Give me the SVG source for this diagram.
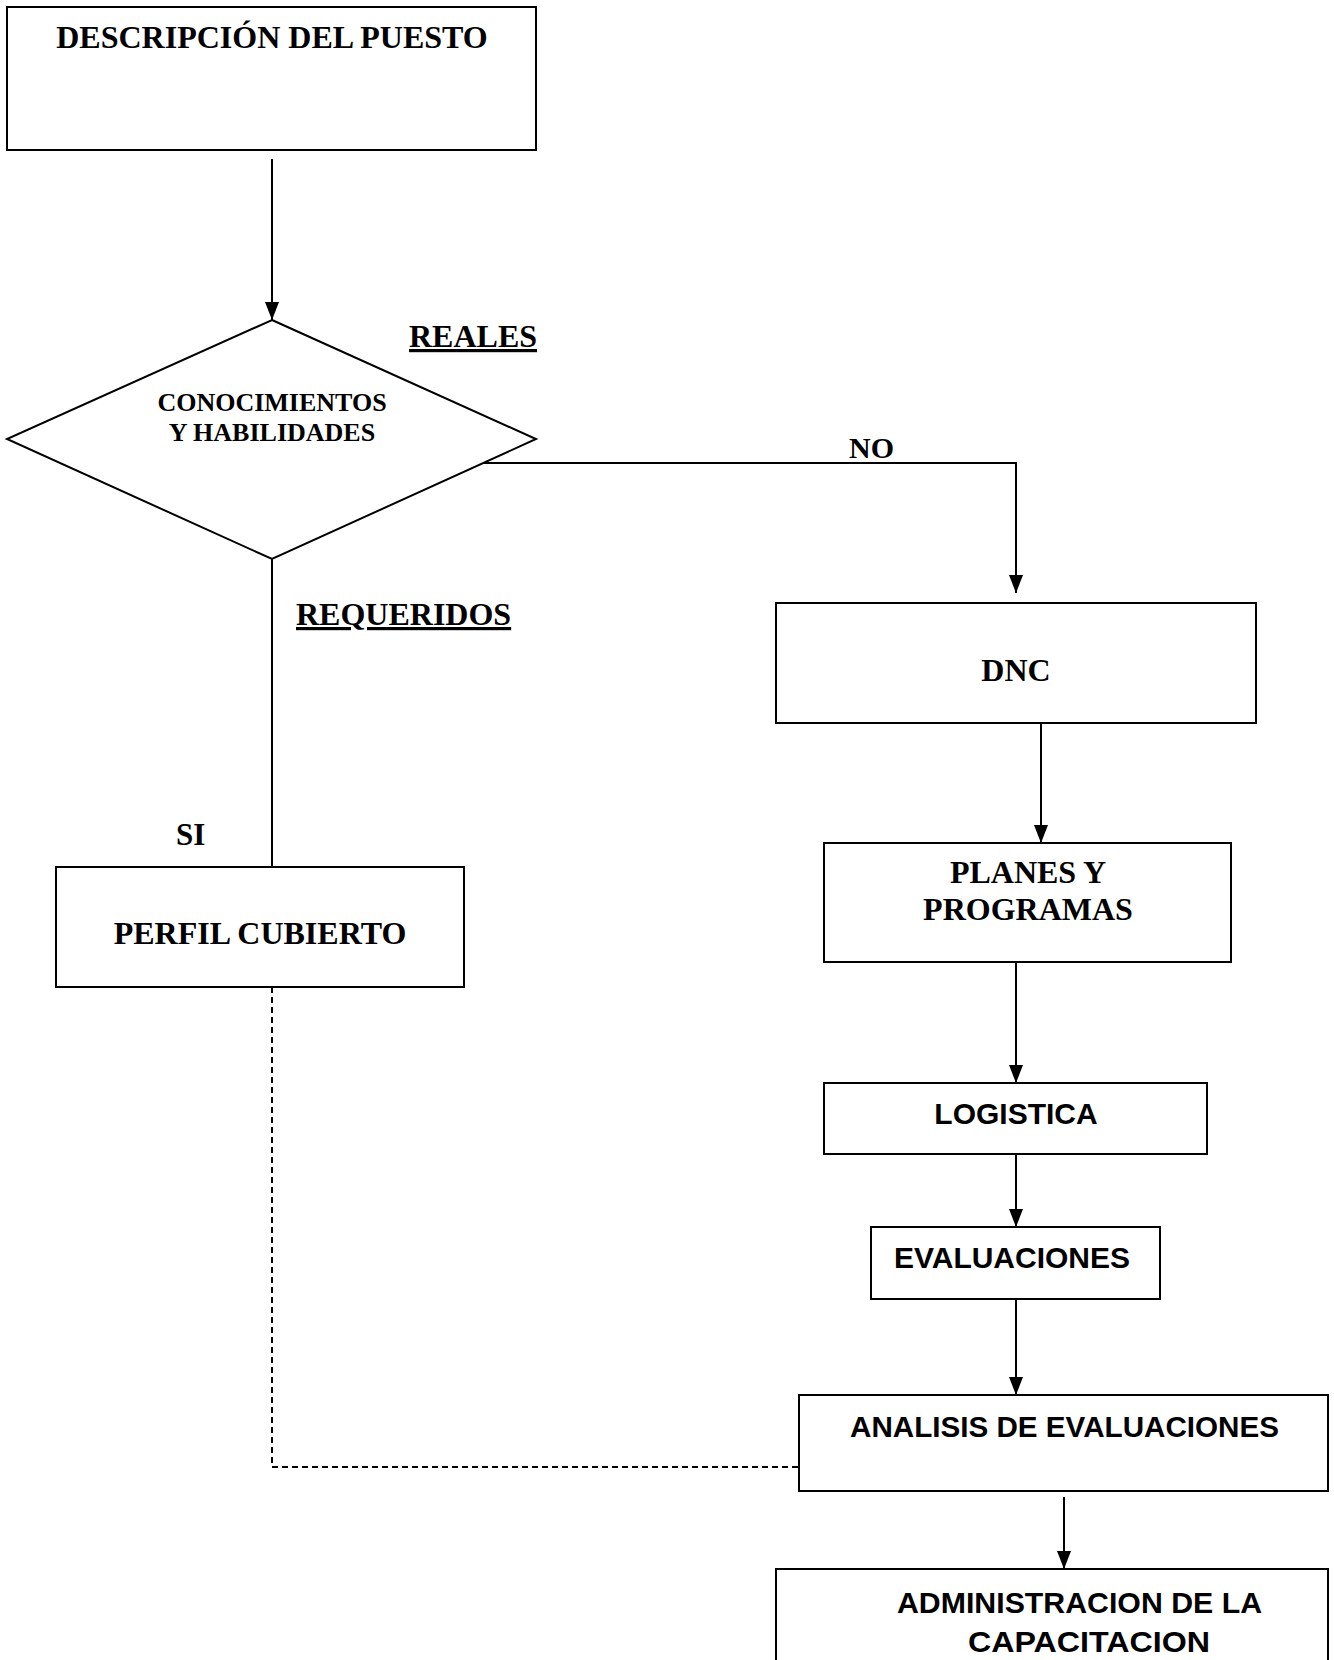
<svg xmlns="http://www.w3.org/2000/svg" width="1334" height="1660" viewBox="0 0 1334 1660">
<style>
.box{fill:#fff;stroke:#000;stroke-width:2}
.ser{font-family:"Liberation Serif","Times New Roman",serif;font-weight:bold;fill:#000}
.san{font-family:"Liberation Sans",Arial,sans-serif;font-weight:bold;fill:#000}
.ln{fill:none;stroke:#000;stroke-width:2}
.dash{fill:none;stroke:#000;stroke-width:2;stroke-dasharray:6 4}
</style>
<defs>
<marker id="arr" markerUnits="userSpaceOnUse" markerWidth="16" markerHeight="20" refX="8" refY="18" orient="auto-start-reverse" viewBox="0 0 16 20">
<path d="M1,0 L15,0 L8,18 Z" fill="#000" transform="rotate(0)"/>
</marker>
<marker id="arrv" markerUnits="userSpaceOnUse" markerWidth="20" markerHeight="16" refX="18" refY="8" orient="auto" viewBox="0 0 20 16">
<path d="M0,1 L18,8 L0,15 Z" fill="#000"/>
</marker>
</defs>
<rect width="1334" height="1660" fill="#fff"/>
<g id="connectors">
<line class="ln" x1="272" y1="159" x2="272" y2="320" marker-end="url(#arrv)"/>
<polyline class="ln" points="454,463 1016,463 1016,593" marker-end="url(#arrv)"/>
<line class="ln" x1="272" y1="559" x2="272" y2="867"/>
<line class="ln" x1="1041" y1="723" x2="1041" y2="843" marker-end="url(#arrv)"/>
<line class="ln" x1="1016" y1="962" x2="1016" y2="1083" marker-end="url(#arrv)"/>
<line class="ln" x1="1016" y1="1154" x2="1016" y2="1227" marker-end="url(#arrv)"/>
<line class="ln" x1="1016" y1="1299" x2="1016" y2="1395" marker-end="url(#arrv)"/>
<polyline class="dash" points="272,987 272,1467 799,1467"/>
<line class="ln" x1="1064" y1="1497" x2="1064" y2="1569" marker-end="url(#arrv)"/>
<text class="ser" x="849" y="458" font-size="30">NO</text>
<text class="ser" x="409" y="347" font-size="32" text-decoration="underline">REALES</text>
<text class="ser" x="296" y="625" font-size="32" text-decoration="underline">REQUERIDOS</text>
<text class="ser" x="176" y="845" font-size="31">SI</text>
</g>
<g id="descripcion">
<rect class="box" x="7" y="7" width="529" height="143"/>
<text class="ser" x="272" y="48" font-size="32" text-anchor="middle">DESCRIPCIÓN DEL PUESTO</text>
</g>
<g id="conocimientos">
<polygon class="box" points="272,320 536,439 272,559 7,439"/>
<text class="ser" x="272" y="411" font-size="26" text-anchor="middle">CONOCIMIENTOS</text>
<text class="ser" x="272" y="441" font-size="26" text-anchor="middle">Y HABILIDADES</text>
</g>
<g id="dnc">
<rect class="box" x="776" y="603" width="480" height="120"/>
<text class="ser" x="1016" y="681" font-size="32" text-anchor="middle">DNC</text>
</g>
<g id="planes">
<rect class="box" x="824" y="843" width="407" height="119"/>
<text class="ser" x="1028" y="883" font-size="32" text-anchor="middle">PLANES Y</text>
<text class="ser" x="1028" y="920" font-size="32" text-anchor="middle">PROGRAMAS</text>
</g>
<g id="perfil">
<rect class="box" x="56" y="867" width="408" height="120"/>
<text class="ser" x="260" y="944" font-size="32" text-anchor="middle">PERFIL CUBIERTO</text>
</g>
<g id="logistica">
<rect class="box" x="824" y="1083" width="383" height="71"/>
<text class="san" x="1016" y="1124" font-size="30" text-anchor="middle">LOGISTICA</text>
</g>
<g id="evaluaciones">
<rect class="box" x="871" y="1227" width="289" height="72"/>
<text class="san" x="1012" y="1268" font-size="30" text-anchor="middle">EVALUACIONES</text>
</g>
<g id="analisis">
<rect class="box" x="799" y="1395" width="529" height="96"/>
<text class="san" x="850" y="1437" font-size="29" textLength="429" lengthAdjust="spacingAndGlyphs">ANALISIS DE EVALUACIONES</text>
</g>
<g id="administracion">
<rect class="box" x="776" y="1569" width="552" height="120"/>
<text class="san" x="897" y="1613" font-size="30" textLength="365" lengthAdjust="spacingAndGlyphs">ADMINISTRACION DE LA</text>
<text class="san" x="968" y="1652" font-size="30" textLength="242" lengthAdjust="spacingAndGlyphs">CAPACITACION</text>
</g>
</svg>
